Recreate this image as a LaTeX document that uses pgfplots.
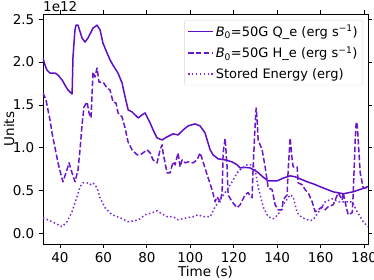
\documentclass[border=0pt]{standalone}
\usepackage{fontspec}
\setmainfont{DejaVu Sans}
\usepackage{pgfplots}
\pgfplotsset{compat=1.18}
\definecolor{cq}{HTML}{5E0EC4}
\definecolor{ch}{HTML}{6A16CC}
\definecolor{cs}{HTML}{7A28D8}
\newcommand{\myfont}{\fontsize{13.5bp}{15bp}\selectfont}
\newcommand{\mylegfont}{\fontsize{13bp}{15bp}\selectfont}
\pgfplotstableread{
x y
32.2 2.047
33.1 1.965
34.0 1.907
35.4 1.872
37.7 1.872
39.1 1.849
41.0 1.791
42.3 1.733
43.7 1.674
45.1 1.640
45.6 1.628
46.0 2.058
46.9 2.372
47.4 2.430
48.3 2.430
50.2 2.279
51.5 2.233
52.9 2.279
55.2 2.395
57.1 2.430
58.5 2.372
59.8 2.221
61.7 2.105
63.1 2.023
64.4 1.965
66.7 1.872
68.6 1.756
70.0 1.593
71.4 1.442
73.2 1.419
74.6 1.384
76.0 1.349
77.8 1.384
79.2 1.407
81.5 1.291
83.3 1.186
84.7 1.116
87.0 1.093
89.3 1.128
92.1 1.163
94.4 1.151
96.7 1.209
99.0 1.256
102.2 1.279
104.5 1.256
106.8 1.174
109.1 0.980
110.5 0.919
112.8 0.872
116.0 0.860
119.2 0.837
121.6 0.802
122.9 0.767
125.2 0.772
127.5 0.767
130.8 0.721
133.5 0.660
135.8 0.616
140.0 0.616
143.0 0.650
146.0 0.674
148.3 0.663
150.5 0.640
153.8 0.605
156.6 0.581
159.8 0.547
165.8 0.488
170.4 0.465
174.9 0.488
180.5 0.535
181.8 0.550
}\qe
\pgfplotstableread{
x y
32.2 1.640
33.58 1.558
35.42 1.326
36.35 1.174
37.73 1.000
39.11 0.826
40.49 0.686
41.41 0.605
43.25 0.744
44.18 0.826
45.56 0.709
46.94 0.605
48.32 0.744
49.24 0.977
50.16 1.267
51.08 1.477
52.47 1.535
53.39 1.407
54.31 1.349
55.23 1.884
56.15 1.826
57.07 1.930
57.99 1.767
59.84 1.767
61.68 1.698
63.06 1.674
64.44 1.535
65.82 1.523
66.75 1.407
68.59 1.360
69.97 1.233
71.35 1.070
73.19 0.977
75.50 0.919
76.88 0.919
78.26 0.942
80.10 0.977
81.48 0.942
82.87 0.860
84.71 0.826
86.09 0.977
87.01 1.035
87.47 0.942
89.31 0.709
90.69 0.709
92.08 0.837
93.00 0.802
94.38 0.942
95.30 0.779
96.22 0.860
97.60 0.826
98.99 0.837
101.29 0.826
103.13 0.860
104.51 0.942
105.89 0.837
108.20 0.651
110.04 0.512
111.42 0.372
112.34 0.430
113.73 0.372
114.65 0.477
115.11 0.942
116.03 1.110
116.95 0.779
117.41 0.453
119.25 0.372
121.56 0.302
122.94 0.337
125.24 0.453
126.62 0.480
127.54 0.440
128.47 0.419
128.93 0.779
129.85 1.267
130.31 1.465
130.77 1.330
131.23 1.093
133.07 0.977
134.45 0.779
135.84 0.535
137.68 0.512
139.06 0.337
140.44 0.279
142.28 0.279
142.74 0.395
144.59 0.453
145.05 0.744
145.97 1.116
146.89 0.860
147.35 0.779
149.19 0.779
149.65 0.593
151.50 0.570
152.88 0.512
154.26 0.477
156.10 0.372
157.48 0.256
158.87 0.279
160.71 0.314
162.09 0.279
163.47 0.314
165.78 0.337
168.08 0.477
169.92 0.395
170.38 0.477
171.76 0.314
172.68 0.221
174.52 0.244
174.98 0.453
175.91 1.093
176.37 1.302
176.83 1.270
177.29 1.093
178.21 0.709
179.59 0.535
180.97 0.535
181.44 0.547
}\he
\pgfplotstableread{
x y
32.2 0.186
36.35 0.140
41.0 0.081
43.25 0.140
45.56 0.256
47.86 0.430
49.24 0.547
50.62 0.593
52.47 0.593
53.85 0.570
55.23 0.593
57.07 0.535
58.45 0.419
60.76 0.302
63.98 0.221
67.67 0.186
71.35 0.140
74.58 0.151
76.88 0.174
79.18 0.221
82.41 0.244
84.71 0.267
86.09 0.244
89.31 0.198
92.14 0.198
94.38 0.163
98.53 0.186
101.29 0.198
103.59 0.221
105.90 0.198
109.12 0.198
111.42 0.314
113.73 0.395
116.95 0.512
119.25 0.605
121.56 0.709
123.86 0.767
126.16 0.802
128.93 0.802
129.85 0.744
131.23 0.547
133.53 0.314
135.84 0.198
138.14 0.174
140.44 0.221
142.74 0.337
145.97 0.453
147.35 0.430
149.19 0.244
151.50 0.186
155.18 0.151
156.56 0.163
159.78 0.279
162.09 0.372
165.31 0.407
168.08 0.372
174.52 0.372
176.83 0.256
179.59 0.140
181.8 0.081
}\se
\begin{document}
\myfont
\begin{tikzpicture}
\useasboundingbox (-43bp,-36bp) rectangle (331bp,244bp);
\begin{axis}[name=ax,
  scale only axis, width=325bp, height=230bp,
  xmin=32.2, xmax=181.8, ymin=-0.12, ymax=2.56,
  xtick={40,60,...,180}, ytick={0,0.5,...,2.5},
  /pgf/number format/assume math mode=true,
  yticklabel style={/pgf/number format/.cd, fixed, fixed zerofill, precision=1},
  tick align=outside, major tick length=4bp,
  tick style={line width=0.8bp, black},
  axis line style={line width=0.8bp},
  every tick label/.append style={font=\myfont},
  label style={font=\myfont},
  xlabel={Time (s)}, ylabel={Units},
  ylabel style={at={([xshift=-34bp]rel axis cs:0,0.5)}, anchor=center},
  xlabel style={at={([yshift=-28bp]rel axis cs:0.5,0)}, anchor=center},
  legend cell align=left,
  legend style={at={(1,1)}, anchor=north east, xshift=-5bp, yshift=-6bp,
    draw=black!15, rounded corners=2bp, fill=white,
    font=\mylegfont, row sep=4.5bp, inner ysep=3bp},
  every axis plot/.append style={line width=1.5bp, line join=round},
]
\addplot[draw=cq, solid, forget plot] table {\qe};
\addplot[draw=ch, dash pattern=on 5.5bp off 2.4bp, forget plot] table {\he};
\addplot[draw=cs, dash pattern=on 1.5bp off 2.4bp, forget plot] table {\se};
\addlegendimage{legend image code/.code={\draw[draw=cq, line width=1.5bp] (0bp,0bp) -- (25bp,0bp);}}
\addlegendentry{{\itshape B}\textsubscript{0}=50G Q\_e (erg s\textsuperscript{−1})}
\addlegendimage{legend image code/.code={\draw[draw=ch, line width=1.5bp, dash pattern=on 5.5bp off 2.4bp] (0bp,0bp) -- (25bp,0bp);}}
\addlegendentry{{\itshape B}\textsubscript{0}=50G H\_e (erg s\textsuperscript{−1})}
\addlegendimage{legend image code/.code={\draw[draw=cs, line width=1.5bp, dash pattern=on 1.5bp off 2.4bp] (0bp,0bp) -- (25bp,0bp);}}
\addlegendentry{Stored Energy (erg)}
\end{axis}
\node[anchor=base west, inner sep=0pt, font=\myfont] at ([yshift=2.5bp]ax.north west) {1e12};
\end{tikzpicture}
\end{document}
